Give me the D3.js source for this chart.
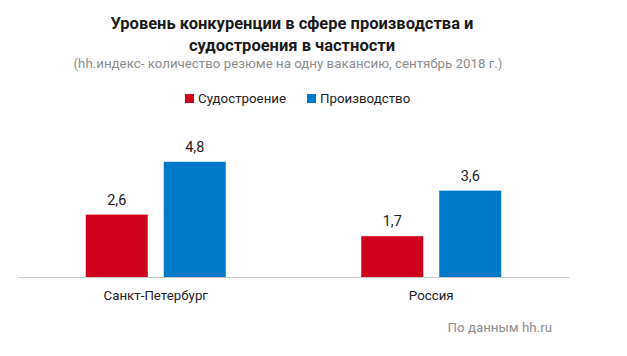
<!DOCTYPE html>
<html><head><meta charset="utf-8">
<script src="https://cdn.jsdelivr.net/npm/d3@7"></script>
<style>body{margin:0;background:#fff;} text{font-family:Roboto,"Noto Sans",sans-serif;}</style>
</head><body>
<svg id="c" width="627" height="356"></svg>
<script>
const categories = ["Санкт-Петербург", "Россия"];
const seriesNames = ["Судостроение", "Производство"];
const shipbuilding = [2.6, 1.7];
const production = [4.8, 3.6];
const valueLabels = [["2,6", "1,7"], ["4,8", "3,6"]];
const colors = ["#d0021b", "#007ac8"];
const titleLines = ["Уровень конкуренции в сфере производства и", "судостроения в частности"];
const subtitle = "(hh.индекс- количество резюме на одну вакансию, сентябрь 2018 г.)";
const source = "По данным hh.ru";

const series = [shipbuilding, production];
const svg = d3.select("#c");

const x0 = d3.scaleBand().domain(categories).range([18, 569]).padding(0);
const x1 = d3.scaleBand().domain(seriesNames).range([0, 140]).paddingInner(0.205).paddingOuter(0);
const y = d3.scaleLinear().domain([0, 5]).range([277, 157]);

// titles
svg.selectAll("text.title").data(titleLines).join("text")
  .attr("class", "title").attr("x", 292).attr("y", (d, i) => 29 + i * 22)
  .attr("text-anchor", "middle").attr("font-size", 16.5).attr("font-weight", 700)
  .attr("fill", "#1a1a1a").text(d => d);
svg.append("text").attr("x", 288).attr("y", 68).attr("text-anchor", "middle")
  .attr("font-size", 13.3).attr("fill", "#8c8c8c").text(subtitle);

// legend
const legendX = [185, 307];
const lg = svg.selectAll("g.lg").data(seriesNames).join("g").attr("class", "lg")
  .attr("transform", (d, i) => `translate(${legendX[i]},94)`);
lg.append("rect").attr("width", 9).attr("height", 9).attr("fill", (d, i) => colors[i]);
lg.append("text").attr("x", 13).attr("y", 9).attr("font-size", 13.3).attr("fill", "#222").text(d => d);

// bars
categories.forEach((cat, ci) => {
  const gx = x0(cat) + x0.bandwidth() / 2 - 70;
  seriesNames.forEach((s, si) => {
    const v = series[si][ci];
    svg.append("rect")
      .attr("x", gx + x1(s)).attr("width", x1.bandwidth())
      .attr("y", y(v)).attr("height", y(0) - y(v))
      .attr("fill", colors[si]);
    svg.append("text")
      .attr("x", gx + x1(s) + x1.bandwidth() / 2).attr("y", y(v) - 10)
      .attr("text-anchor", "middle").attr("font-size", 14.5).attr("fill", "#222")
      .text(valueLabels[si][ci]);
  });
});

// axis
const ax = svg.append("g").attr("transform", `translate(0,${y(0)})`)
  .call(d3.axisBottom(x0).tickSize(0).tickPadding(14));
ax.select(".domain").attr("stroke", "#c8c8c8").attr("stroke-width", 1);
ax.selectAll("text").attr("font-size", 13.3).attr("fill", "#222")
  .attr("font-family", "Roboto, 'Noto Sans', sans-serif");

svg.append("text").attr("x", 552).attr("y", 332).attr("text-anchor", "end")
  .attr("font-size", 13.3).attr("fill", "#8c8c8c").text(source);
</script>
</body></html>
